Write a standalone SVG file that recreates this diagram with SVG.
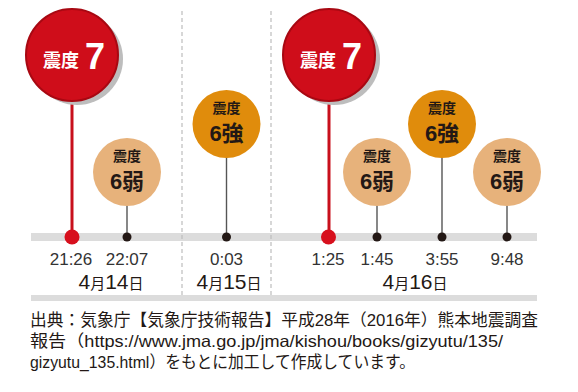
<svg xmlns="http://www.w3.org/2000/svg" width="578" height="392" viewBox="0 0 578 392">
<style>
.bar{fill:#dcdcdc}
.dash{stroke:#bdbdbd;stroke-width:1.2;stroke-dasharray:4 3;fill:none}
.stem{stroke:#555;stroke-width:1.4}
.rstem{stroke:#c8101c;stroke-width:3}
.dot{fill:#231815}
.rdot{fill:#d7101d}
.red{fill:#cf0d1a;stroke:#a80812;stroke-width:2}
.shadow{fill:#bdbdbd}
.tan{fill:#e7b27b}
.org{fill:#e08c0c}
.lbl7{font-family:"Liberation Sans","Noto Sans CJK JP",sans-serif;font-weight:bold;fill:#fff;font-size:18px}
.big7{font-family:"Liberation Sans",sans-serif;font-weight:bold;fill:#fff;font-size:36px}
.s1{font-family:"Liberation Sans","Noto Sans CJK JP",sans-serif;font-weight:bold;fill:#231815;font-size:14px;text-anchor:middle}
.s2{font-family:"Liberation Sans","Noto Sans CJK JP",sans-serif;font-weight:bold;fill:#231815;font-size:22px;text-anchor:middle}
.time{font-family:"Liberation Sans",sans-serif;fill:#333;font-size:17px;text-anchor:middle}
.date{font-family:"Liberation Sans","Noto Sans CJK JP",sans-serif;fill:#231815;font-size:21px;text-anchor:middle}
.dsm{font-size:15px}
.foot{font-family:"Liberation Sans","Noto Sans CJK JP",sans-serif;fill:#231815;font-size:16.5px}
</style>
<rect width="578" height="392" fill="#fff"/>
<g id="axis">
<rect class="bar" x="31" y="233" width="506" height="8"/>
<rect class="bar" x="31" y="295" width="506" height="6"/>
<line class="dash" x1="182" y1="11" x2="182" y2="295"/>
<line class="dash" x1="271" y1="11" x2="271" y2="295"/>
</g>
<g id="connectors">
<line class="rstem" x1="72" y1="100" x2="72" y2="237"/>
<line class="stem" x1="127" y1="205" x2="127" y2="237"/>
<line class="stem" x1="226.5" y1="157" x2="226.5" y2="237"/>
<line class="rstem" x1="329" y1="100" x2="329" y2="237"/>
<line class="stem" x1="377" y1="205" x2="377" y2="237"/>
<line class="stem" x1="442" y1="157" x2="442" y2="237"/>
<line class="stem" x1="507" y1="205" x2="507" y2="237"/>
<circle class="rdot" cx="72" cy="237" r="7.5"/>
<circle class="dot" cx="127" cy="237" r="4.5"/>
<circle class="dot" cx="226.5" cy="237" r="4.5"/>
<circle class="rdot" cx="328.5" cy="237" r="7.5"/>
<circle class="dot" cx="377" cy="237" r="4.5"/>
<circle class="dot" cx="442" cy="237" r="4.5"/>
<circle class="dot" cx="507" cy="237" r="4.5"/>
</g>
<g id="q1">
<circle class="shadow" cx="77" cy="59" r="46"/>
<circle class="red" cx="72" cy="55" r="46"/>
<text class="lbl7" x="43" y="67">震度</text>
<text class="big7" x="85" y="69">7</text>
</g>
<g id="q2">
<circle class="tan" cx="127" cy="172" r="34"/>
<text class="s1" x="127" y="161">震度</text>
<text class="s2" x="127" y="189">6弱</text>
</g>
<g id="q3">
<circle class="org" cx="226.5" cy="124" r="34"/>
<text class="s1" x="226.5" y="113">震度</text>
<text class="s2" x="226.5" y="141">6強</text>
</g>
<g id="q4">
<circle class="shadow" cx="334" cy="59" r="46"/>
<circle class="red" cx="329" cy="55" r="46"/>
<text class="lbl7" x="300" y="67">震度</text>
<text class="big7" x="342" y="69">7</text>
</g>
<g id="q5">
<circle class="tan" cx="377" cy="172" r="34"/>
<text class="s1" x="377" y="161">震度</text>
<text class="s2" x="377" y="189">6弱</text>
</g>
<g id="q6">
<circle class="org" cx="442" cy="124" r="34"/>
<text class="s1" x="442" y="113">震度</text>
<text class="s2" x="442" y="141">6強</text>
</g>
<g id="q7">
<circle class="tan" cx="507" cy="172" r="34"/>
<text class="s1" x="507" y="161">震度</text>
<text class="s2" x="507" y="189">6弱</text>
</g>
<g id="labels">
<text class="time" x="71" y="265">21:26</text>
<text class="time" x="127" y="265">22:07</text>
<text class="time" x="226.5" y="265">0:03</text>
<text class="time" x="328" y="265">1:25</text>
<text class="time" x="377" y="265">1:45</text>
<text class="time" x="442" y="265">3:55</text>
<text class="time" x="507" y="265">9:48</text>
<text class="date" x="111" y="289">4<tspan class="dsm">月</tspan>14<tspan class="dsm">日</tspan></text>
<text class="date" x="229" y="289">4<tspan class="dsm">月</tspan>15<tspan class="dsm">日</tspan></text>
<text class="date" x="415" y="289">4<tspan class="dsm">月</tspan>16<tspan class="dsm">日</tspan></text>
</g>
<g id="footer">
<text class="foot" x="30" y="326" textLength="508" lengthAdjust="spacingAndGlyphs">出典：気象庁【気象庁技術報告】平成28年（2016年）熊本地震調査</text>
<text class="foot" x="30" y="347" textLength="473" lengthAdjust="spacingAndGlyphs">報告（https://www.jma.go.jp/jma/kishou/books/gizyutu/135/</text>
<text class="foot" x="30" y="368" textLength="385" lengthAdjust="spacingAndGlyphs">gizyutu_135.html）をもとに加工して作成しています。</text>
</g>
</svg>
